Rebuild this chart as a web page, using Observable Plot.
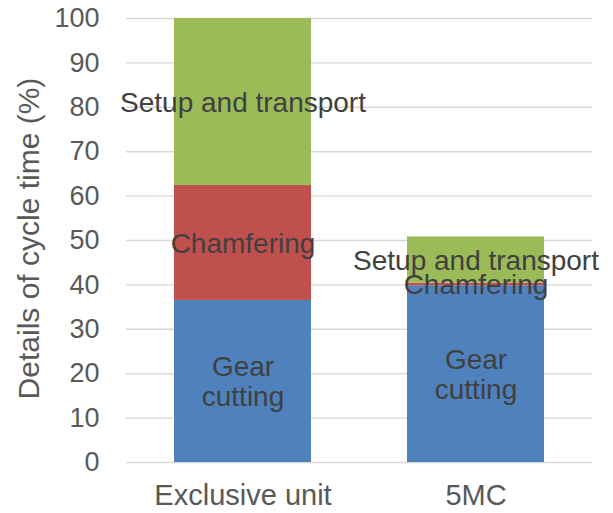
<!DOCTYPE html>
<html>
<head>
<meta charset="utf-8">
<script src="https://cdn.jsdelivr.net/npm/d3@7"></script>
<script src="https://cdn.jsdelivr.net/npm/@observablehq/plot@0.6"></script>
<style>
  html, body { margin: 0; padding: 0; background: #fff; }
  #chart svg { display: block; }
</style>
</head>
<body>
<div id="chart"></div>
<script>
const categories = ["Exclusive unit", "5MC"];
const segments = ["Gear cutting", "Chamfering", "Setup and transport"];
const segmentLabels = ["Gear\ncutting", "Chamfering", "Setup and transport"];
const gearCutting = [36.5, 39.8];
const chamfering = [25.9, 0.6];
const setupTransport = [37.6, 10.4];
const yTicks = [0, 10, 20, 30, 40, 50, 60, 70, 80, 90, 100];
const yTitle = "Details of cycle time (%)";
const colors = ["#4f81bd", "#c0504d", "#9bbb59"];

const seriesValues = [gearCutting, chamfering, setupTransport];
const rows = [];
categories.forEach((cat, i) => {
  let base = 0;
  segments.forEach((seg, j) => {
    const v = seriesValues[j][i];
    rows.push({cat, seg, label: segmentLabels[j], y1: base, y2: base + v, mid: base + v / 2});
    base += v;
  });
});

const font = "'Liberation Sans', Arial, sans-serif";

const chart = Plot.plot({
  width: 613,
  height: 513,
  marginLeft: 126,
  marginRight: 21,
  marginTop: 18,
  marginBottom: 51,
  style: {fontFamily: font, fontSize: "28px", color: "#595959", background: "#fff"},
  x: {domain: categories, paddingInner: 0.411, paddingOuter: 0.2055, label: null},
  y: {domain: [0, 100], label: null},
  color: {domain: segments, range: colors},
  marks: [
    Plot.ruleY(yTicks, {stroke: "#d9d9d9", strokeWidth: 1.4}),
    Plot.barY(rows, {x: "cat", y1: "y1", y2: "y2", fill: "seg", inset: 0}),
    Plot.text(rows, {
      x: "cat", y: "mid", text: "label",
      fill: "#404040", fontSize: 28, lineHeight: 1.08, fontFamily: font
    }),
    Plot.axisY({ticks: yTicks, tickSize: 0, tickPadding: 27, fontSize: 27, label: null}),
    Plot.text([yTitle], {
      text: d => d, frameAnchor: "left", textAnchor: "middle", lineAnchor: "middle",
      rotate: -90, dx: -97, dy: -2,
      fontSize: 30, fill: "#595959", fontFamily: font
    }),
    Plot.axisX({tickSize: 0, tickPadding: 22, fontSize: 29, label: null})
  ]
});
document.getElementById("chart").appendChild(chart);
</script>
</body>
</html>
